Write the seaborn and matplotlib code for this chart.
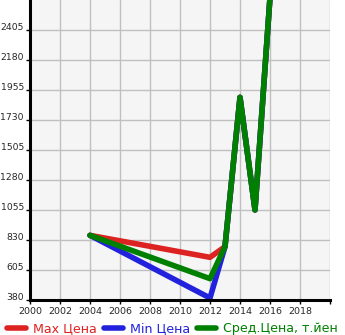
import matplotlib
matplotlib.use("Agg")
import matplotlib.pyplot as plt
import seaborn as sns
import pandas as pd
from matplotlib.lines import Line2D

years = [2004, 2012, 2013, 2014, 2015, 2016]
max_price = [865, 700, 780, 1900, 1055, 2650]
min_price = [865, 395, 780, 1900, 1055, 2650]
avg_price = [865, 540, 780, 1900, 1055, 2650]

x_ticks = [2000, 2002, 2004, 2006, 2008, 2010, 2012, 2014, 2016, 2018]
y_ticks = [380, 605, 830, 1055, 1280, 1505, 1730, 1955, 2180, 2405]
labels = ["Max Цена", "Min Цена", "Сред.Цена, т.йен"]
colors = ["#dd2222", "#2222dd", "#008000"]

sns.set_style("white")
plt.rcParams['font.family'] = ['DejaVu Sans']

fig = plt.figure(figsize=(3.45, 3.35), dpi=100)
ax = fig.add_axes([30/345, 35/335, 300/345, 300/335])
ax.set_facecolor("#f5f5f5")

for vals, c in zip([max_price, min_price, avg_price], colors):
    df = pd.DataFrame({"year": years, "val": vals})
    sns.lineplot(data=df, x="year", y="val", ax=ax, color=c, lw=4,
                 solid_capstyle="round", solid_joinstyle="round", sort=False)

ax.set_xlim(2000, 2020)
ax.set_ylim(380, 2630)
ax.set_xticks(x_ticks + [2020])
ax.set_xticklabels([str(v) for v in x_ticks] + [""])
ax.set_yticks(y_ticks)
ax.set_yticklabels([str(v) for v in y_ticks])
for lab in ax.get_yticklabels():
    lab.set_va("baseline")
ax.grid(True, color="#c0c0c0", lw=1)
ax.set_axisbelow(True)
ax.set_xlabel("")
ax.set_ylabel("")
for s in ["top", "right"]:
    ax.spines[s].set_visible(False)
for s in ["left", "bottom"]:
    ax.spines[s].set_color("black")
    ax.spines[s].set_linewidth(2.2)
ax.tick_params(axis="x", labelsize=6.8, length=3, width=1, color="black", pad=2)
ax.tick_params(axis="y", labelsize=6.7, length=3, width=1, color="black", pad=1.5)
ax.tick_params(left=True, bottom=True)

handles = [Line2D([0], [0], color=c, lw=4, solid_capstyle="round") for c in colors]
leg = fig.legend(handles, labels, loc="lower left", bbox_to_anchor=(-0.012, -0.035),
                 ncol=3, frameon=False, fontsize=9.1, handlelength=1.5,
                 handletextpad=0.55, columnspacing=0.55, labelcolor=colors)

fig.savefig("out.png", dpi=100)
